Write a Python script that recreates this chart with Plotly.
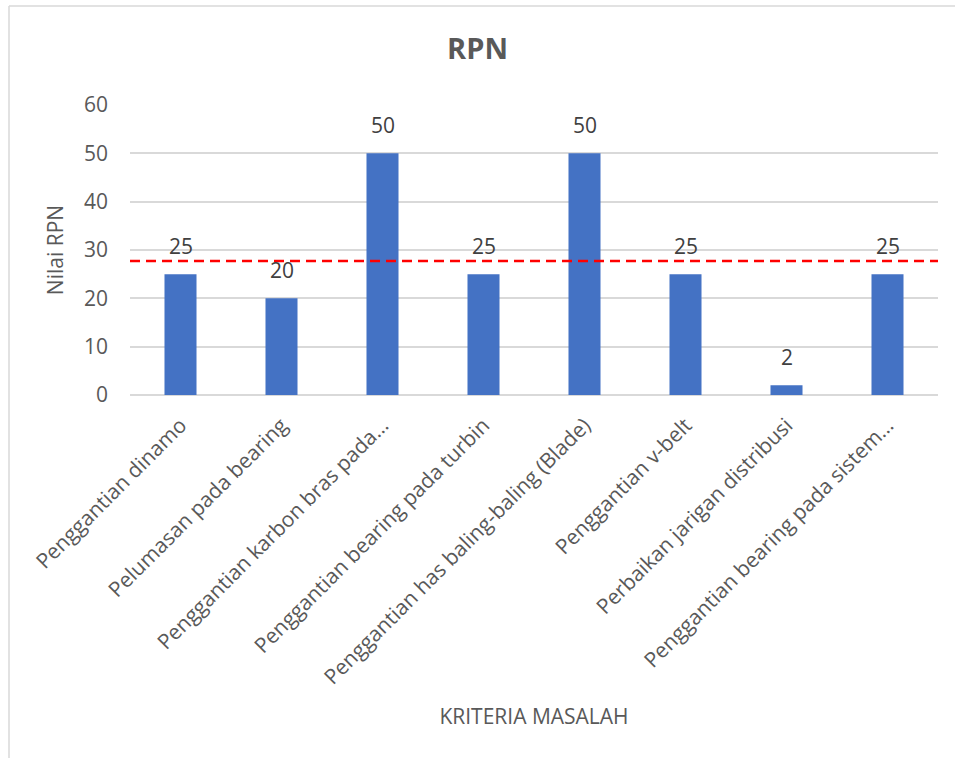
import plotly.graph_objects as go

# Kriteria masalah dan nilai RPN
categories = [
    "Penggantian dinamo",
    "Pelumasan pada bearing",
    "Penggantian karbon bras pada…",
    "Penggantian bearing pada turbin",
    "Penggantian has baling-baling (Blade)",
    "Penggantian v-belt",
    "Perbaikan jarigan distribusi",
    "Penggantian bearing pada sistem…",
]
rpn_values = [25, 20, 50, 25, 50, 25, 2, 25]
y_ticks = [0, 10, 20, 30, 40, 50, 60]

rpn_mean = sum(rpn_values) / len(rpn_values)

W, H = 955, 758
M = dict(l=130, r=17, t=105, b=363)
plot_w = W - M["l"] - M["r"]
plot_h = H - M["t"] - M["b"]


def px_x(p):
    return (p - M["l"]) / plot_w


def px_y(p):
    return (H - M["b"] - p) / plot_h


FONT = "Open Sans"
GREY = "#595959"

fig = go.Figure()
fig.add_trace(go.Bar(
    x=categories,
    y=rpn_values,
    marker=dict(color="#4472C4", line=dict(width=0)),
    hoverinfo="x+y",
    showlegend=False,
))

# average line
fig.add_shape(type="line", xref="paper", yref="y", x0=0, x1=1,
              y0=rpn_mean, y1=rpn_mean,
              line=dict(color="#FF0000", width=2.5, dash="10px,6px"))

# outer chart frame
frame = dict(color="#D9D9D9", width=1.5)
fig.add_shape(type="line", xref="paper", yref="paper",
              x0=px_x(9), x1=px_x(9), y0=px_y(6), y1=px_y(H + 5), line=frame)
fig.add_shape(type="line", xref="paper", yref="paper",
              x0=px_x(9), x1=px_x(W + 5), y0=px_y(6), y1=px_y(6), line=frame)

# data labels
for c, v in zip(categories, rpn_values):
    fig.add_annotation(x=c, y=v, text=str(v), showarrow=False,
                       yanchor="bottom", yshift=12,
                       font=dict(family=FONT, size=21, color="#404040"))

fig.update_layout(
    width=W, height=H,
    margin=M,
    paper_bgcolor="white",
    plot_bgcolor="white",
    bargap=0.683,
    title=dict(text="<b>RPN</b>", x=0.5, xref="container", xanchor="center",
               y=1 - 49 / H, yref="container", yanchor="middle",
               font=dict(family=FONT, size=29, color=GREY)),
    font=dict(family=FONT, size=21, color=GREY),
)

fig.update_xaxes(
    tickangle=-45,
    tickfont=dict(family=FONT, size=21, color=GREY),
    showline=False, showgrid=False,
    ticks="", ticklabelstandoff=13,
    title=dict(text="KRITERIA MASALAH", standoff=20,
               font=dict(family=FONT, size=21, color=GREY)),
    automargin=False,
)

fig.update_yaxes(
    range=[0, 60],
    tickvals=y_ticks,
    tickfont=dict(family=FONT, size=21, color=GREY),
    showgrid=True, gridcolor="#D9D9D9", gridwidth=1.5,
    zeroline=True, zerolinecolor="#D9D9D9", zerolinewidth=1.5,
    showline=False, ticks="", ticklabelstandoff=21,
    title=dict(text="Nilai RPN", standoff=14,
               font=dict(family=FONT, size=21, color=GREY)),
    automargin=False,
)

fig.write_html("out.html")
